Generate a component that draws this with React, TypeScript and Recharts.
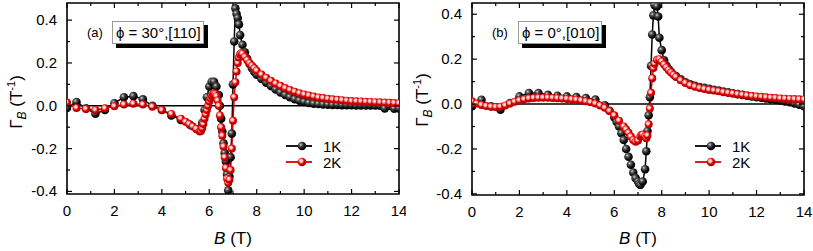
import React from 'react';
import { LineChart, Line, XAxis, YAxis, ReferenceLine, ReferenceArea, Legend } from 'recharts';

// (a) phi = 30°, [110]
const fieldA1K = [0, 0.4, 0.8, 1.2, 1.6, 2.0, 2.4, 2.8, 3.2, 3.6, 4.0, 4.4, 4.8, 5.2, 5.5, 5.7, 5.8, 5.9, 6.0, 6.1, 6.2, 6.3, 6.4, 6.45, 6.5, 6.55, 6.6, 6.65, 6.7, 6.75, 6.8, 6.85, 6.9, 6.95, 7.0, 7.05, 7.1, 7.15, 7.2, 7.25, 7.3, 7.4, 7.5, 7.6, 7.7, 7.8, 7.9, 8.0, 8.2, 8.4, 8.6, 8.8, 9.0, 9.2, 9.4, 9.6, 9.8, 10.0, 10.2, 10.4, 10.6, 10.8, 11.0, 11.2, 11.4, 11.6, 11.8, 12.0, 12.2, 12.4, 12.6, 12.8, 13.0, 13.2, 13.4, 13.6, 13.8, 14.0];
const gammaA1K = [-0.01, 0.018, -0.012, -0.037, -0.02, 0.012, 0.04, 0.045, 0.03, 0.0, -0.02, -0.045, -0.066, -0.09, -0.11, -0.08, -0.02, 0.04, 0.09, 0.112, 0.112, 0.09, 0.05, 0.0, -0.06, -0.12, -0.175, -0.22, -0.26, -0.32, -0.395, -0.33, -0.24, -0.13, 0.1, 0.3, 0.455, 0.43, 0.41, 0.38, 0.33, 0.285, 0.25, 0.22, 0.195, 0.175, 0.158, 0.145, 0.125, 0.108, 0.092, 0.076, 0.062, 0.05, 0.04, 0.031, 0.024, 0.018, 0.013, 0.01, 0.008, 0.006, 0.005, 0.004, 0.004, 0.003, 0.003, 0.003, 0.002, 0.002, 0.002, 0.002, 0.001, 0.0, -0.012, 0.0, -0.014, -0.012];
const fieldA2K = [0, 0.4, 0.8, 1.2, 1.6, 2.0, 2.4, 2.8, 3.2, 3.6, 4.0, 4.4, 4.8, 5.0, 5.15, 5.3, 5.45, 5.6, 5.65, 5.7, 5.75, 5.8, 5.85, 5.9, 5.95, 6.0, 6.05, 6.1, 6.15, 6.2, 6.25, 6.3, 6.35, 6.4, 6.45, 6.5, 6.55, 6.6, 6.65, 6.7, 6.75, 6.8, 6.85, 6.9, 6.95, 7.0, 7.05, 7.1, 7.15, 7.2, 7.25, 7.3, 7.35, 7.4, 7.5, 7.6, 7.7, 7.8, 7.9, 8.0, 8.2, 8.4, 8.6, 8.8, 9.0, 9.2, 9.4, 9.6, 9.8, 10.0, 10.2, 10.4, 10.6, 10.8, 11.0, 11.2, 11.4, 11.6, 11.8, 12.0, 12.2, 12.4, 12.6, 12.8, 13.0, 13.2, 13.4, 13.6, 13.8, 14.0];
const gammaA2K = [0.015, -0.01, -0.015, -0.02, -0.012, -0.002, 0.006, 0.01, 0.006, -0.004, -0.02, -0.038, -0.06, -0.075, -0.085, -0.097, -0.108, -0.12, -0.118, -0.105, -0.085, -0.06, -0.04, -0.02, 0.0, 0.02, 0.035, 0.047, 0.055, 0.058, 0.055, 0.045, 0.025, 0.0, -0.045, -0.1, -0.14, -0.19, -0.24, -0.29, -0.34, -0.36, -0.345, -0.3, -0.2, -0.07, 0.04, 0.11, 0.16, 0.2, 0.225, 0.24, 0.247, 0.243, 0.228, 0.213, 0.199, 0.187, 0.175, 0.164, 0.146, 0.131, 0.117, 0.104, 0.093, 0.083, 0.074, 0.066, 0.059, 0.053, 0.048, 0.043, 0.039, 0.036, 0.033, 0.03, 0.028, 0.026, 0.024, 0.022, 0.021, 0.02, 0.019, 0.018, 0.017, 0.016, 0.015, 0.014, 0.013, 0.012];

// (b) phi = 0°, [010]
const fieldB1K = [0, 0.4, 0.8, 1.2, 1.6, 2.0, 2.4, 2.8, 3.2, 3.6, 4.0, 4.4, 4.8, 5.2, 5.6, 5.8, 6.0, 6.1, 6.2, 6.3, 6.4, 6.5, 6.6, 6.7, 6.8, 6.9, 7.0, 7.05, 7.1, 7.2, 7.3, 7.35, 7.4, 7.45, 7.5, 7.55, 7.6, 7.65, 7.7, 7.8, 7.85, 7.9, 8.0, 8.1, 8.2, 8.3, 8.4, 8.6, 8.8, 9.0, 9.2, 9.4, 9.6, 9.8, 10.0, 10.2, 10.4, 10.6, 10.8, 11.0, 11.2, 11.4, 11.6, 11.8, 12.0, 12.2, 12.4, 12.6, 12.8, 13.0, 13.2, 13.4, 13.6, 13.8, 14.0];
const gammaB1K = [-0.01, 0.019, -0.01, -0.025, 0.005, 0.034, 0.049, 0.049, 0.041, 0.037, 0.034, 0.031, 0.027, 0.02, -0.005, -0.03, -0.06, -0.08, -0.1, -0.13, -0.16, -0.2, -0.235, -0.27, -0.305, -0.33, -0.345, -0.355, -0.36, -0.345, -0.29, -0.21, -0.12, -0.05, 0.03, 0.17, 0.31, 0.395, 0.44, 0.435, 0.39, 0.295, 0.24, 0.195, 0.17, 0.155, 0.143, 0.125, 0.11, 0.097, 0.088, 0.081, 0.076, 0.072, 0.068, 0.064, 0.06, 0.056, 0.052, 0.048, 0.044, 0.041, 0.037, 0.034, 0.031, 0.028, 0.025, 0.022, 0.019, 0.016, 0.012, 0.008, 0.003, -0.003, -0.01];
const fieldB2K = [0, 0.2, 0.4, 0.6, 0.8, 1.0, 1.2, 1.4, 1.6, 1.8, 2.0, 2.2, 2.4, 2.6, 2.8, 3.0, 3.2, 3.4, 3.6, 3.8, 4.0, 4.2, 4.4, 4.6, 4.8, 5.0, 5.2, 5.4, 5.6, 5.8, 6.0, 6.2, 6.4, 6.5, 6.6, 6.7, 6.8, 6.9, 7.0, 7.1, 7.15, 7.2, 7.3, 7.35, 7.4, 7.45, 7.5, 7.55, 7.6, 7.65, 7.7, 7.8, 7.9, 8.0, 8.1, 8.2, 8.3, 8.4, 8.5, 8.6, 8.8, 9.0, 9.2, 9.4, 9.6, 9.8, 10.0, 10.2, 10.4, 10.6, 10.8, 11.0, 11.2, 11.4, 11.6, 11.8, 12.0, 12.2, 12.4, 12.6, 12.8, 13.0, 13.2, 13.4, 13.6, 13.8, 14.0];
const gammaB2K = [0.012, 0.002, -0.004, -0.009, -0.012, -0.013, -0.012, -0.006, 0.002, 0.01, 0.016, 0.021, 0.025, 0.027, 0.028, 0.028, 0.028, 0.027, 0.026, 0.025, 0.023, 0.021, 0.019, 0.016, 0.012, 0.008, 0.002, -0.006, -0.017, -0.031, -0.05, -0.074, -0.1, -0.113, -0.128, -0.145, -0.16, -0.168, -0.162, -0.145, -0.138, -0.136, -0.143, -0.152, -0.14, -0.09, -0.02, 0.05, 0.115, 0.16, 0.18, 0.197, 0.2, 0.19, 0.176, 0.163, 0.151, 0.14, 0.13, 0.121, 0.106, 0.094, 0.084, 0.077, 0.071, 0.067, 0.063, 0.06, 0.057, 0.053, 0.05, 0.047, 0.044, 0.041, 0.038, 0.036, 0.034, 0.032, 0.03, 0.028, 0.027, 0.025, 0.024, 0.023, 0.022, 0.021, 0.02];

const xTicks = [0, 1, 2, 3, 4, 5, 6, 7, 8, 9, 10, 11, 12, 13, 14];
const yTicks = [-0.4, -0.3, -0.2, -0.1, 0, 0.1, 0.2, 0.3, 0.4];

const H = 251;
const FONT = '"Liberation Sans", Arial, Helvetica, sans-serif';

const zip = (b: number[], g: number[]) => b.map((x, i) => ({ B: x, g: g[i] }));

const ball = (id: string, r: number) => (p: any) => {
  if (p.cx == null || p.cy == null) return <g key={p.index} />;
  return <circle key={p.index} cx={p.cx} cy={p.cy} r={r} fill={`url(#${id})`} />;
};

function BallLegend({ payload }: { payload?: any[] }) {
  if (!payload) return null;
  return (
    <svg width={80} height={36} style={{ display: 'block' }}>
      {payload.map((e, i) => {
        const y = 10 + i * 16;
        const id = e.color === '#000' ? 'ballK' : 'ballR';
        return (
          <g key={i}>
            <line x1={6} x2={32} y1={y} y2={y} stroke={e.color} strokeWidth={1.8} />
            <circle cx={22} cy={y} r={4.3} fill={`url(#${id})`} />
            <text x={43} y={y + 5.5} fontSize={15} fontFamily={FONT} fill="#000">{e.value}</text>
          </g>
        );
      })}
    </svg>
  );
}

function YTitle({ cy }: { cy: number }) {
  return (
    <text
      transform={`translate(22 ${cy}) rotate(-90)`}
      textAnchor="middle"
      fontSize={17}
      fontFamily={FONT}
      fill="#000"
    >
      Γ<tspan fontSize={12} fontStyle="italic" dy={4}>B</tspan>
      <tspan dy={-4}> (T</tspan>
      <tspan fontSize={11} dy={-7}>-1</tspan>
      <tspan dy={7}>)</tspan>
    </text>
  );
}

function XTitle({ cx }: { cx: number }) {
  return (
    <text x={cx} y={244} textAnchor="middle" fontSize={17} fontFamily={FONT} fill="#000">
      <tspan fontStyle="italic">B</tspan> (T)
    </text>
  );
}

type PanelProps = {
  left: number;
  width: number;
  margin: { top: number; right: number; bottom: number; left: number };
  yDomain: [number, number];
  k1: { B: number; g: number }[];
  k2: { B: number; g: number }[];
  tag: string;
  note: string;
  tagX: number;
  boxX: number;
  boxW: number;
  legendX: number;
  titleCy: number;
};

function Panel(p: PanelProps) {
  const plotTop = p.margin.top;
  const plotBottom = H - p.margin.bottom - 30;
  const plotLeft = p.margin.left + 60;
  const plotRight = p.width - p.margin.right;
  const xMid = (plotLeft + plotRight) / 2;

  const XTick = (t: any) => {
    const v = t.payload.value;
    const major = v % 2 === 0;
    const len = major ? 5 : 3;
    return (
      <g>
        <line x1={t.x} x2={t.x} y1={plotBottom} y2={plotBottom - len} stroke="#000" strokeWidth={1.2} />
        <line x1={t.x} x2={t.x} y1={plotTop} y2={plotTop + len} stroke="#000" strokeWidth={1.2} />
        {major && (
          <text x={t.x} y={plotBottom + 22} textAnchor="middle" fontSize={15} fontFamily={FONT} fill="#000">{v}</text>
        )}
      </g>
    );
  };

  const YTick = (t: any) => {
    const v = t.payload.value;
    const major = Math.round(v * 10) % 2 === 0;
    const len = major ? 5 : 3;
    return (
      <g>
        <line x1={plotLeft} x2={plotLeft + len} y1={t.y} y2={t.y} stroke="#000" strokeWidth={1.2} />
        <line x1={plotRight} x2={plotRight - len} y1={t.y} y2={t.y} stroke="#000" strokeWidth={1.2} />
        {major && (
          <text x={plotLeft - 10} y={t.y + 5} textAnchor="end" fontSize={15} fontFamily={FONT} fill="#000">{v.toFixed(1)}</text>
        )}
      </g>
    );
  };

  return (
    <div style={{ position: 'absolute', left: p.left, top: 0, width: p.width, height: H }}>
      <LineChart width={p.width} height={H} margin={p.margin}>
        <defs>
          <radialGradient id="ballK" cx="36%" cy="34%" r="64%">
            <stop offset="0%" stopColor="#d8d8d8" />
            <stop offset="30%" stopColor="#555" />
            <stop offset="70%" stopColor="#111" />
            <stop offset="100%" stopColor="#000" />
          </radialGradient>
          <radialGradient id="ballR" cx="40%" cy="38%" r="62%">
            <stop offset="0%" stopColor="#ffffff" />
            <stop offset="28%" stopColor="#ffb4b4" />
            <stop offset="58%" stopColor="#e00000" />
            <stop offset="100%" stopColor="#a80000" />
          </radialGradient>
        </defs>
        <XAxis
          type="number"
          dataKey="B"
          domain={[0, 14]}
          ticks={xTicks}
          interval={0}
          allowDataOverflow
          axisLine={false}
          tickLine={false}
          height={30}
          tick={XTick}
          label={<XTitle cx={xMid} />}
        />
        <YAxis
          type="number"
          domain={p.yDomain}
          ticks={yTicks}
          interval={0}
          allowDataOverflow
          axisLine={false}
          tickLine={false}
          width={60}
          tick={YTick}
          label={<YTitle cy={p.titleCy} />}
        />
        <ReferenceLine y={0} stroke="#000" strokeWidth={1.6} />
        <ReferenceArea x1={0} x2={14} y1={p.yDomain[0]} y2={p.yDomain[1]} fill="none" stroke="#000" strokeWidth={1.6} />
        <Line
          data={p.k1}
          dataKey="g"
          name="1K"
          type="linear"
          stroke="#000"
          strokeWidth={1.5}
          dot={ball('ballK', 4.3)}
          isAnimationActive={false}
        />
        <Line
          data={p.k2}
          dataKey="g"
          name="2K"
          type="linear"
          stroke="#dd0000"
          strokeWidth={1.5}
          dot={ball('ballR', 4)}
          isAnimationActive={false}
        />
        <Legend
          layout="horizontal"
          verticalAlign="middle"
          align="center"
          wrapperStyle={{ left: p.legendX, top: 136, width: 80, height: 36 }}
          content={(lp: any) => <BallLegend payload={lp.payload} />}
        />
      </LineChart>
      <div style={{ position: 'absolute', left: p.tagX, top: 25, fontSize: 13, lineHeight: '16px', fontFamily: FONT }}>
        {p.tag}
      </div>
      <div
        style={{
          position: 'absolute',
          left: p.boxX,
          top: 21,
          width: p.boxW,
          height: 23,
          boxSizing: 'border-box',
          border: '1px solid #999',
          boxShadow: '4px 4px 0 #000',
          background: '#fff',
          fontSize: 15,
          lineHeight: '21px',
          paddingLeft: 3,
          whiteSpace: 'nowrap',
          fontFamily: FONT,
        }}
      >
        {p.note}
      </div>
    </div>
  );
}

export default function App() {
  return (
    <div style={{ position: 'absolute', left: 0, top: 0, width: 813, height: H, background: '#fff', fontFamily: FONT }}>
      <Panel
        left={0}
        width={406}
        margin={{ top: 3, right: 7, bottom: 27, left: 7 }}
        yDomain={[-0.412, 0.48]}
        k1={zip(fieldA1K, gammaA1K)}
        k2={zip(fieldA2K, gammaA2K)}
        tag="(a)"
        note="ϕ = 30°,[110]"
        tagX={87}
        boxX={112}
        boxW={92}
        legendX={280}
        titleCy={102}
      />
      <Panel
        left={406}
        width={407}
        margin={{ top: 3, right: 9, bottom: 26, left: 6 }}
        yDomain={[-0.405, 0.45]}
        k1={zip(fieldB1K, gammaB1K)}
        k2={zip(fieldB2K, gammaB2K)}
        tag="(b)"
        note="ϕ = 0°,[010]"
        tagX={86}
        boxX={112}
        boxW={84}
        legendX={283}
        titleCy={100}
      />
    </div>
  );
}
